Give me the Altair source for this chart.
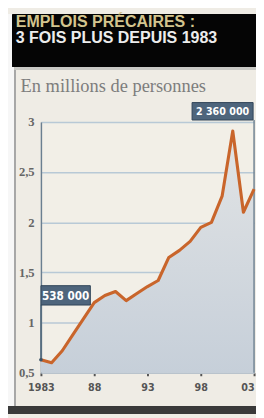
import altair as alt
import pandas as pd

# ---- data ----
years = [1983, 1984, 1985, 1986, 1987, 1988, 1989, 1990, 1991, 1992, 1993,
         1994, 1995, 1996, 1997, 1998, 1999, 2000, 2001, 2002, 2003]
values = [0.63, 0.60, 0.72, 0.88, 1.04, 1.20, 1.27, 1.31, 1.22, 1.29, 1.36,
          1.42, 1.65, 1.72, 1.81, 1.95, 2.00, 2.26, 2.91, 2.10, 2.33]

y_tick_values = [0.5, 1, 1.5, 2, 2.5, 3]
y_tick_labels = ["0,5", "1", "1,5", "2", "2,5", "3"]
x_tick_values = [1983, 1988, 1993, 1998, 2003]
x_tick_labels = ["1983", "88", "93", "98", "03"]

title_1 = "EMPLOIS PRÉCAIRES :"
title_2 = "3 FOIS PLUS DEPUIS 1983"
subtitle = "En millions de personnes"
annot_years = [1983, 2003]
annot_labels = ["538 000", "2 360 000"]

df = pd.DataFrame({"year": years, "value": values})


def label_expr(vals, labs):
    expr = "''"
    for v, l in reversed(list(zip(vals, labs))):
        expr = f"datum.value == {v} ? '{l}' : ({expr})"
    return expr


W, H = 220, 259
BEIGE = "#efece5"

xscale = alt.Scale(domain=[1983, 2003], nice=False, zero=False)
yscale = alt.Scale(domain=[0.5, 3], nice=False, zero=False)

X = alt.X("year:Q", scale=xscale, axis=alt.Axis(
    values=x_tick_values, labelExpr=label_expr(x_tick_values, x_tick_labels),
    title=None, grid=False, domainColor="#b9c3cc", domainWidth=1.5,
    tickColor="#555", tickSize=3, tickWidth=2, labelPadding=6,
    labelAlign={"expr": f"datum.value == {x_tick_values[-1]} ? 'right' : 'center'"},
    labelFont="DejaVu Sans Condensed", labelFontSize=11, labelFontWeight="bold",
    labelColor="#555", labelOverlap=False, labelFlush=False))
Y = alt.Y("value:Q", scale=yscale, axis=alt.Axis(
    values=y_tick_values, labelExpr=label_expr(y_tick_values, y_tick_labels),
    title=None, grid=True, gridColor="#b8c9d6", gridWidth=1.5,
    domainColor="#6b7f90", domainWidth=1.5, ticks=False, labelPadding=7,
    labelFont="Liberation Serif", labelFontSize=13, labelFontWeight="bold",
    labelColor="#666"))

base = alt.Chart(df)

area = base.mark_area(
    color=alt.Gradient(gradient="linear",
                       stops=[alt.GradientStop(color="#c6cfd9", offset=0),
                              alt.GradientStop(color="#e2e4e5", offset=1)],
                       x1=1, x2=1, y1=1, y2=0)
).encode(x=X, y=Y, y2=alt.datum(0.5))

line = base.mark_line(color="#c9652b", strokeWidth=3.2, strokeJoin="round").encode(
    x="year:Q", y="value:Q")

# decorative panels (pixel placement)
left_strip = alt.Chart(df).mark_rect(color="#f7f7f7").encode(
    x=alt.value(-34), x2=alt.value(-28), y=alt.value(-111), y2=alt.value(H + 40))
left_border = alt.Chart(df).mark_rule(color="#a8a8a8", strokeWidth=1.5).encode(
    x=alt.value(-27), y=alt.value(-57), y2=alt.value(H + 34))
header = alt.Chart(df).mark_rect(color="#050505").encode(
    x=alt.value(-29), x2=alt.value(W + 4), y=alt.value(-111), y2=alt.value(-57))
header_line = alt.Chart(df).mark_rule(color="#c9c9c4", strokeWidth=3).encode(
    x=alt.value(-27), x2=alt.value(W + 4), y=alt.value(-55))
bottom_band = alt.Chart(df).mark_rect(color="#3a3a3a").encode(
    x=alt.value(-34), x2=alt.value(W + 4), y=alt.value(H + 35), y2=alt.value(H + 42))

t1 = alt.Chart(pd.DataFrame({"t": [title_1]})).mark_text(
    align="left", baseline="alphabetic", font="Liberation Sans", fontWeight="bold",
    fontSize=16.5, color="#d3c48e").encode(x=alt.value(-26), y=alt.value(-98), text="t:N")
t2 = alt.Chart(pd.DataFrame({"t": [title_2]})).mark_text(
    align="left", baseline="alphabetic", font="Liberation Sans", fontWeight="bold",
    fontSize=16.5, color="#ececec").encode(x=alt.value(-26), y=alt.value(-82), text="t:N")
sub = alt.Chart(pd.DataFrame({"t": [subtitle]})).mark_text(
    align="left", baseline="alphabetic", font="Liberation Serif",
    fontSize=19, color="#7d7d7d").encode(x=alt.value(-21), y=alt.value(-31), text="t:N")

# annotations
ann = pd.DataFrame({"year": annot_years, "label": annot_labels,
                    "value": [values[years.index(y)] for y in annot_years]})
a1 = ann.iloc[[0]]
a2 = ann.iloc[[1]]

conn1 = alt.Chart(a1).mark_rule(color="#4d6579", strokeWidth=1.5).encode(
    x="year:Q", y="value:Q", y2=alt.value(189))
dot1 = alt.Chart(a1).mark_point(filled=True, color="#3d5468", size=14, opacity=1).encode(
    x="year:Q", y="value:Q")
box1 = alt.Chart(a1).mark_rect(color="#4e657c", stroke="#2f4458", strokeWidth=1).encode(
    x=alt.value(0), x2=alt.value(51), y=alt.value(169), y2=alt.value(189))
txt1 = alt.Chart(a1).mark_text(font="DejaVu Sans Condensed", fontWeight="bold",
                               fontSize=12, color="#ffffff").encode(
    x=alt.value(25.5), y=alt.value(179.5), text="label:N")

conn2 = alt.Chart(a2).mark_rule(color="#6d8091", strokeWidth=1.5).encode(
    x="year:Q", y=alt.datum(0.5), y2=alt.value(-2))
box2 = alt.Chart(a2).mark_rect(color="#4e657c", stroke="#2f4458", strokeWidth=1).encode(
    x=alt.value(156), x2=alt.value(219), y=alt.value(-20), y2=alt.value(-2))
txt2 = alt.Chart(a2).mark_text(font="DejaVu Sans Condensed", fontWeight="bold",
                               fontSize=11, color="#ffffff").encode(
    x=alt.value(187.5), y=alt.value(-10.5), text="label:N")

chart = alt.layer(
    left_strip, left_border, header, header_line, bottom_band, t1, t2, sub,
    area, conn2, line, conn1, dot1, box1, txt1, box2, txt2
).properties(
    width=W, height=H,
    background=BEIGE,
    padding={"left": 34, "top": 111, "right": 2, "bottom": 40},
    autosize=alt.AutoSizeParams(type="none"),
).configure_view(stroke=None, fill="#f2efe7")

chart.save("out.html", embed_options={"renderer": "svg", "actions": False})
